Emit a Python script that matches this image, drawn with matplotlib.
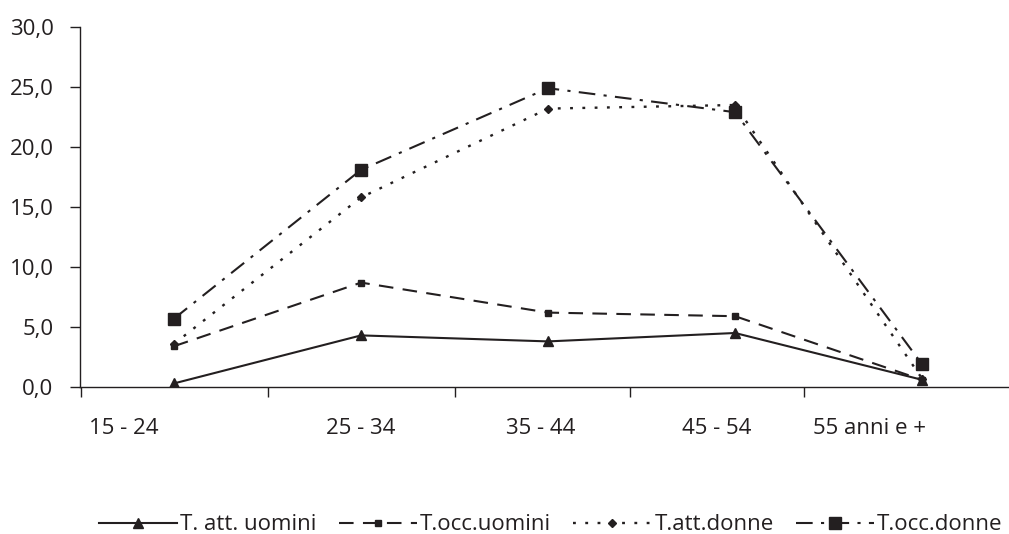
import numpy as np
import matplotlib
matplotlib.use('Agg')
from matplotlib import pyplot as plt

# Categories and series values
categories = ['15 - 24', '25 - 34', '35 - 44', '45 - 54', '55 anni e +']
att_uomini = [0.3, 4.3, 3.8, 4.5, 0.6]
occ_uomini = [3.4, 8.7, 6.2, 5.9, 0.6]
att_donne = [3.6, 15.8, 23.2, 23.5, 0.7]
occ_donne = [5.7, 18.1, 24.9, 22.9, 1.9]

ink = '#231f20'
plt.rcParams['font.family'] = ['Open Sans', 'DejaVu Sans']

fig = plt.figure(figsize=(10.09, 5.34), dpi=100)
ax = fig.add_axes([80/1009, 147/534, 929/1009, 360/534])

x = np.arange(len(categories))
ax.plot(x, att_uomini, color=ink, lw=1.5, ls='-', marker='^', ms=7, label='T. att. uomini')
ax.plot(x, occ_uomini, color=ink, lw=1.5, ls=(0, (7, 4.5)), marker='s', ms=5, label='T.occ.uomini')
ax.plot(x, att_donne, color=ink, lw=1.7, ls=(0, (1.2, 4)), marker='D', ms=4.5, label='T.att.donne')
ax.plot(x, occ_donne, color=ink, lw=1.5, ls=(0, (8, 4, 1.5, 4)), marker='s', ms=8, label='T.occ.donne')

ax.set_xlim(-0.503, 4.465)
ax.set_ylim(0, 30)
ax.set_yticks(np.arange(0, 31, 5))
ax.set_yticklabels([f'{v:.1f}'.replace('.', ',') for v in np.arange(0, 31, 5)])

# category boundary ticks (minor) and label positions (major, no marks)
ax.set_xticks([-0.5, 0.5, 1.5, 2.44, 3.37], minor=True)
ax.set_xticks([-0.27, 1.0, 1.96, 2.9, 3.72])
ax.set_xticklabels(categories)
ax.tick_params(axis='x', which='major', length=0, pad=22, labelsize=16, colors=ink)
ax.tick_params(axis='x', which='minor', length=7, width=1, color=ink, direction='out')
ax.tick_params(axis='y', length=7, width=1, pad=12, labelsize=16, colors=ink)

for s in ['top', 'right']:
    ax.spines[s].set_visible(False)
for s in ['left', 'bottom']:
    ax.spines[s].set_color(ink)
    ax.spines[s].set_linewidth(1)

fig.legend(loc='lower center', bbox_to_anchor=(0.546, -0.04), ncol=4, frameon=False,
           fontsize=16, handlelength=3.5, handletextpad=0.15, columnspacing=1.0,
           labelcolor=ink)

fig.savefig('out.png', dpi=100)
